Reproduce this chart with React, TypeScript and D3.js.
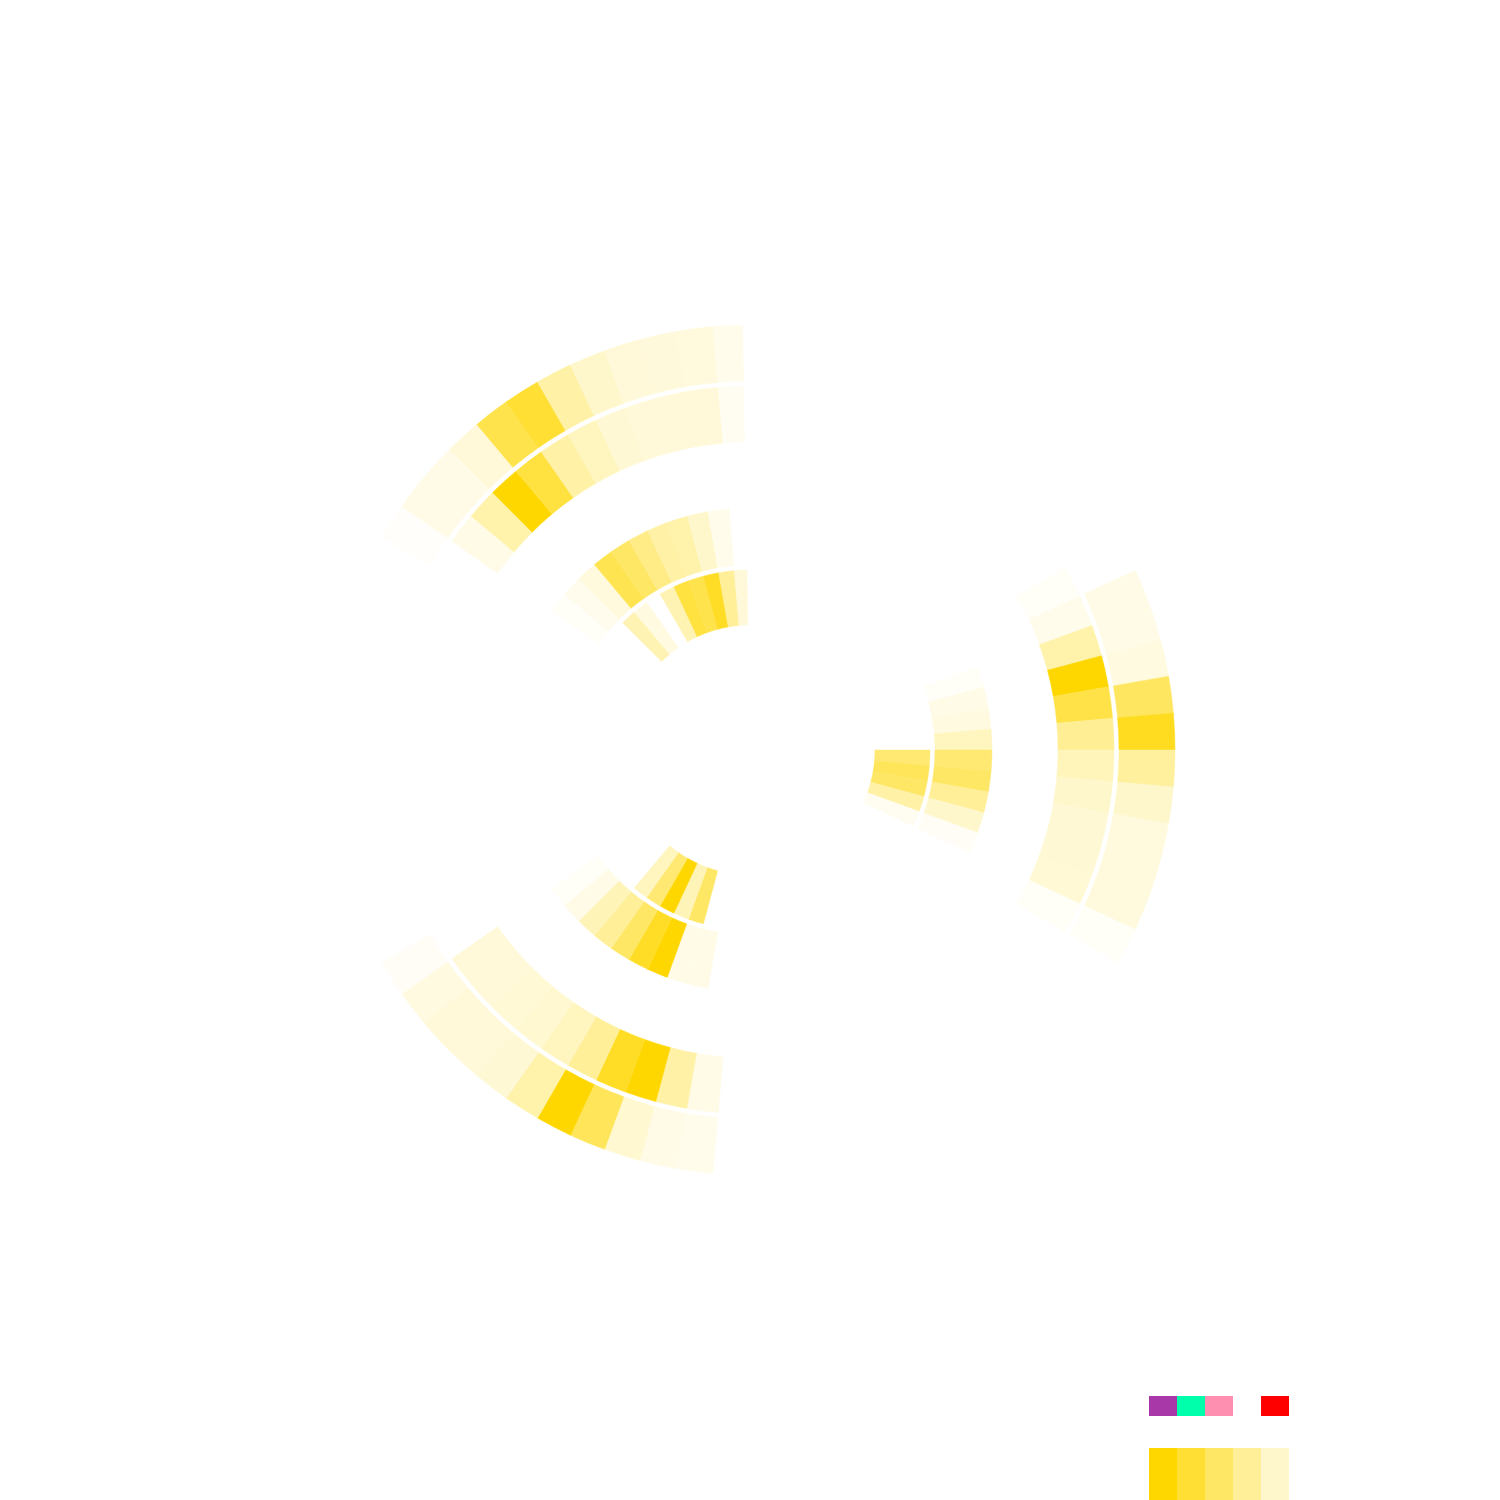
import React, { useEffect, useRef } from "react";
import * as d3 from "d3";

// angular bins of 5 degrees, measured clockwise from 12 o'clock
const BIN_DEG = 5;
const MAX_DEG = 359;

// each ring: [start angle of first bin, intensity of each consecutive bin (0..1)]
const ring1Cells: [number, number[]][] = [
  [90, [0.55, 0.65, 0.6, 0.35, 0.05]],
  [195, [0.6, 0.28, 1.0, 0.55, 0.25]],
  [315, [0.3, 0.12, 0, 0.3, 0.75, 0.7, 0.85, 0.4, 0.15]],
];

const ring2Cells: [number, number[]][] = [
  [70, [0.03, 0.1, 0.12, 0.25, 0.55, 0.6, 0.4, 0.2, 0.04]],
  [190, [0.1, 0.1, 1.0, 0.85, 0.6, 0.4, 0.28, 0.1, 0.03]],
  [305, [0.03, 0.07, 0.13, 0.68, 0.6, 0.47, 0.35, 0.33, 0.2, 0.08]],
];

const ring3Cells: [number, number[]][] = [
  [60, [0.03, 0.08, 0.33, 1.0, 0.72, 0.42, 0.27, 0.2, 0.17, 0.17, 0.16, 0.03]],
  [185, [0.1, 0.35, 1.0, 0.85, 0.4, 0.25, 0.18, 0.16, 0.15, 0.15]],
  [305, [0.1, 0.33, 1.0, 0.75, 0.35, 0.25, 0.17, 0.15, 0.15, 0.15, 0.05]],
];

const ring4Cells: [number, number[]][] = [
  [65, [0.1, 0.1, 0.12, 0.62, 0.88, 0.38, 0.2, 0.13, 0.13, 0.13, 0.03]],
  [185, [0.08, 0.1, 0.18, 0.65, 1.0, 0.33, 0.17, 0.15, 0.15, 0.12, 0.04]],
  [300, [0.02, 0.1, 0.1, 0.15, 0.7, 0.8, 0.35, 0.2, 0.15, 0.14, 0.13, 0.08]],
];

const legendCategoryColors = ["#a838a8", "#00ffaa", "#ff8fb0", "#ffffff", "#ff0000"];
const legendSteps = [1, 0.8, 0.6, 0.4, 0.2];

const App: React.FC = () => {
  const chartRef = useRef<SVGSVGElement | null>(null);
  const width = 1500;
  const height = 1500;

  useEffect(() => {
    if (!chartRef.current) return;
    const svg = d3.select(chartRef.current);
    svg.selectAll("*").remove();

    const cx = 750;
    const cy = 750;
    const ringBands = [
      [125, 180],
      [185, 242],
      [308, 364],
      [369, 425],
    ];

    const angle = d3.scaleLinear().domain([0, 360]).range([0, 2 * Math.PI]);
    const color = d3
      .scaleLinear<string>()
      .domain([0, 1])
      .range(["#ffffff", "#ffd700"]);

    const rings = [ring1Cells, ring2Cells, ring3Cells, ring4Cells];
    const cells = rings.flatMap((ring, ri) =>
      ring.flatMap(([start, vals]) =>
        vals.map((v, i) => ({ ring: ri, a0: start + i * BIN_DEG, v }))
      )
    );

    const arc = d3
      .arc<{ ring: number; a0: number; v: number }>()
      .innerRadius((d) => ringBands[d.ring][0])
      .outerRadius((d) => ringBands[d.ring][1])
      .startAngle((d) => angle(d.a0))
      .endAngle((d) => angle(Math.min(d.a0 + BIN_DEG, MAX_DEG)));

    const g = svg.append("g").attr("transform", `translate(${cx},${cy})`);
    g.selectAll("path")
      .data(cells.filter((d) => d.v > 0))
      .enter()
      .append("path")
      .attr("d", arc)
      .attr("fill", (d) => color(d.v))
      .attr("stroke", (d) => color(d.v))
      .attr("stroke-width", 0.5);

    // legend
    const legendX = d3
      .scaleBand<number>()
      .domain(d3.range(5))
      .range([1149, 1289]);

    svg
      .append("g")
      .selectAll("rect")
      .data(legendCategoryColors)
      .enter()
      .append("rect")
      .attr("x", (_, i) => legendX(i) || 0)
      .attr("y", 1396)
      .attr("width", legendX.bandwidth())
      .attr("height", 20)
      .attr("fill", (d) => d);

    svg
      .append("g")
      .selectAll("rect")
      .data(legendSteps)
      .enter()
      .append("rect")
      .attr("x", (_, i) => legendX(i) || 0)
      .attr("y", 1448)
      .attr("width", legendX.bandwidth())
      .attr("height", 60)
      .attr("fill", (d) => color(d));
  }, []);

  return (
    <svg
      ref={chartRef}
      width={width}
      height={height}
      style={{ position: "absolute", left: 0, top: 0, background: "#fff" }}
    />
  );
};

export default App;
